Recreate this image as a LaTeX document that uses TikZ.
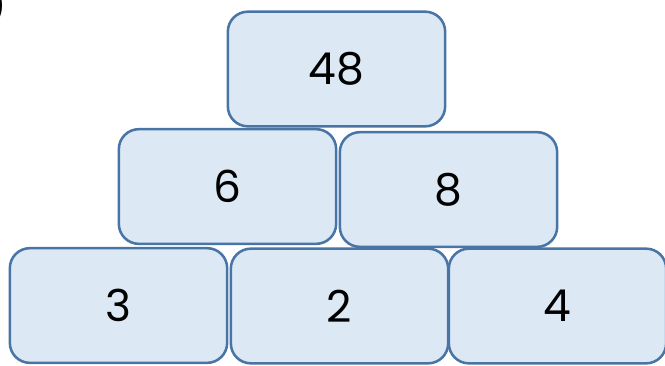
\documentclass[tikz,border=0pt]{standalone}
\usepackage{fontspec}
\setmainfont{Poppins}
\usepackage{xcolor}
\usetikzlibrary{positioning}
\definecolor{clrFill}{RGB}{221,232,245}
\definecolor{clrEdge}{RGB}{72,116,166}

\begin{document}
\begin{tikzpicture}[
  x=0.75pt, y=-0.75pt,
  brick/.style={
    rectangle, rounded corners=15pt, draw=clrEdge, line width=1.9pt,
    fill=clrFill, minimum width=163pt, minimum height=86pt,
    font=\fontsize{33}{36}\selectfont, text centered, inner sep=0pt
  }
]
\useasboundingbox (0,0) rectangle (665,365);

% Top row
\node[brick] (top)   at (336.5,69)  {48};

% Middle row
\node[brick] (six)   at (227.5,186.5) {6};
\node[brick] (eight) at (448.5,189.5) {8};

% Bottom row
\node[brick] (three) at (118.5,305.5) {3};
\node[brick] (two)   at (339.5,306)   {2};
\node[brick] (four)  at (557.5,306)   {4};

% Clipped label mark
\node[font=\fontsize{26}{30}\selectfont, anchor=east, inner sep=0pt] (mark) at (7,6) {)};

\end{tikzpicture}
\end{document}
